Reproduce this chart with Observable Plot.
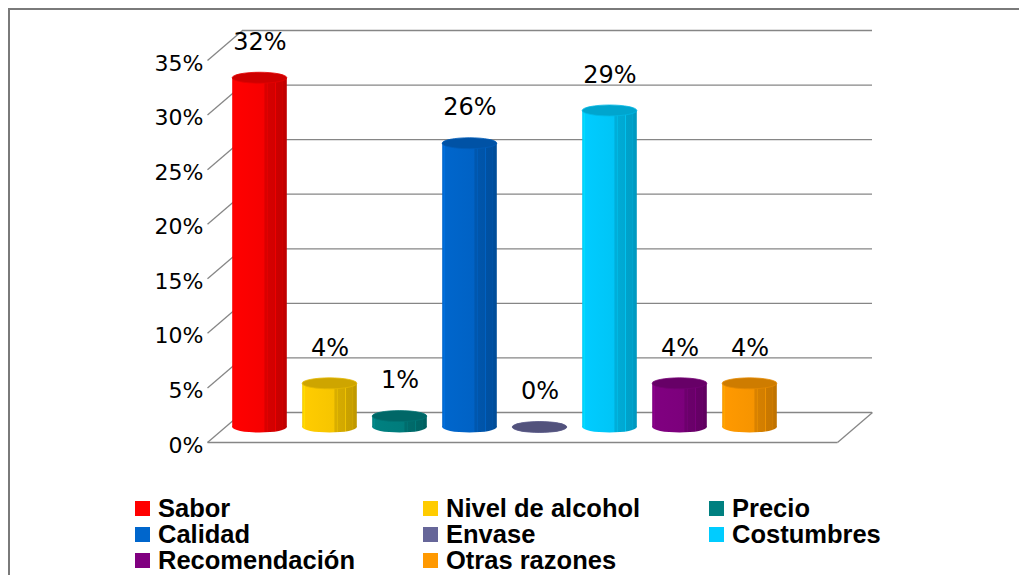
<!DOCTYPE html>
<html><head><meta charset="utf-8">
<script src="https://cdn.jsdelivr.net/npm/d3@7"></script>
<script src="https://cdn.jsdelivr.net/npm/@observablehq/plot@0.6"></script>
<style>
body{margin:0;background:#fff;width:1019px;height:575px;position:relative;overflow:hidden;font-family:"DejaVu Sans";}
#chart{position:absolute;left:0;top:0;}
#frame{position:absolute;left:8px;top:8px;width:1011px;height:567px;border-top:2px solid #7a7a7a;border-left:2px solid #7a7a7a;box-sizing:border-box;pointer-events:none;}
#legend .item{position:absolute;display:flex;align-items:center;height:24px;line-height:24px;font:bold 25.5px/24px "Liberation Sans";color:#000;white-space:nowrap;}
#legend .sw{width:15px;height:15px;margin-right:8px;flex:none;}
</style></head><body>
<div id="chart"></div><div id="legend"></div><div id="frame"></div>
<script>
const categories = ["Sabor","Nivel de alcohol","Precio","Calidad","Envase","Costumbres","Recomendación","Otras razones"];
const values = [32,4,1,26,0,29,4,4];
const colors = ["#ff0000","#ffcc00","#008080","#0066cc","#666699","#00ccff","#800080","#ff9900"];
const yTicks = [0,5,10,15,20,25,30,35];

const rows = categories.map((c,i)=>({cat:c, i, value:values[i], color:colors[i]}));
// depth offsets (in data units) from mid-depth plane to back wall
const DX = 0.25, DY = 1.374;
const GRID = "#868686";

function defsMark(index, scales){
  const g = d3.create("svg:g");
  const defs = g.append("defs");
  rows.forEach(d=>{
    const c = d3.color(d.color);
    const s = (k)=> (k>=0 ? c.darker(k) : c.brighter(-k)).formatHex();
    const stops = [
      [0, s(0.1)],[0.04, s(-0.25)],[0.06, s(0)],[0.58, s(0.1)],
      [0.6, s(0.45)],[0.63, s(0.45)],[0.64, s(-0.1)],[0.65, s(0.5)],
      [0.78, s(0.55)],[0.79, s(-0.05)],[0.80, s(0.65)],
      [0.92, s(0.7)],[0.93, s(0)],[0.94, s(0.8)],[1, s(0.8)]
    ];
    const lg = defs.append("linearGradient").attr("id","cyl"+d.i).attr("x1","0").attr("x2","1").attr("y1","0").attr("y2","0");
    stops.forEach(([o,col])=>lg.append("stop").attr("offset",o).attr("stop-color",col));
  });
  return g.node();
}
function caps(which){
  return (index, scales) => {
    const g = d3.create("svg:g");
    rows.forEach(d=>{
      const x1 = scales.x(d.i+0.11), x2 = scales.x(d.i+0.89);
      const cy = scales.y(which==="top" ? d.value : 0);
      g.append("ellipse").attr("cx",(x1+x2)/2).attr("cy",cy)
        .attr("rx",(x2-x1)/2).attr("ry",5.5)
        .attr("fill", which==="top" ? d3.color(d.color).darker(0.6).formatHex() : `url(#cyl${d.i})`)
        .attr("stroke", which==="top" ? d3.color(d.color).darker(0.3).formatHex() : "none")
        .attr("stroke-width",0.8);
    });
    return g.node();
  };
}

const chart = Plot.plot({
  width:1019, height:480,
  x:{type:"linear", domain:[0,9], range:[224.5,854.5], axis:null},
  y:{domain:[0,35], range:[427,45], axis:null},
  color:{type:"identity"},
  style:{background:"transparent", fontFamily:"DejaVu Sans"},
  marks:[
    defsMark,
    Plot.ruleY(yTicks, {y:d=>d+DY, x1:DX, x2:9+DX, stroke:GRID, strokeWidth:1.3}),
    Plot.link(yTicks, {x1:-DX, y1:d=>d-DY, x2:DX, y2:d=>d+DY, stroke:GRID, strokeWidth:1.3}),
    Plot.link([0], {x1:-DX, y1:-DY, x2:9-DX, y2:-DY, stroke:GRID, strokeWidth:1.3}),
    Plot.link([0], {x1:9-DX, y1:-DY, x2:9+DX, y2:DY, stroke:GRID, strokeWidth:1.3}),
    caps("bottom"),
    Plot.rectY(rows, {x1:d=>d.i+0.11, x2:d=>d.i+0.89, y1:0, y2:"value", fill:d=>`url(#cyl${d.i})`}),
    caps("top"),
    Plot.text(rows, {x:d=>d.i+0.5, y:"value", text:d=>d.value+"%", dy:-36, fontSize:24, fill:"#000"}),
    Plot.text(yTicks, {x:0, y:d=>d, text:d=>d+"%", dx:-21.5, dy:18, textAnchor:"end", fontSize:22, fill:"#000"})
  ]
});
document.getElementById("chart").appendChild(chart);

const colLeft = [135, 423, 709];
const rowTop = [496, 522, 548];
const legend = document.getElementById("legend");
rows.forEach((d,k)=>{
  const it = document.createElement("div");
  it.className = "item";
  it.style.left = colLeft[k%3]+"px";
  it.style.top = rowTop[Math.floor(k/3)]+"px";
  const sw = document.createElement("span");
  sw.className = "sw"; sw.style.background = d.color;
  it.appendChild(sw);
  it.appendChild(document.createTextNode(d.cat));
  legend.appendChild(it);
});
</script>
</body></html>
